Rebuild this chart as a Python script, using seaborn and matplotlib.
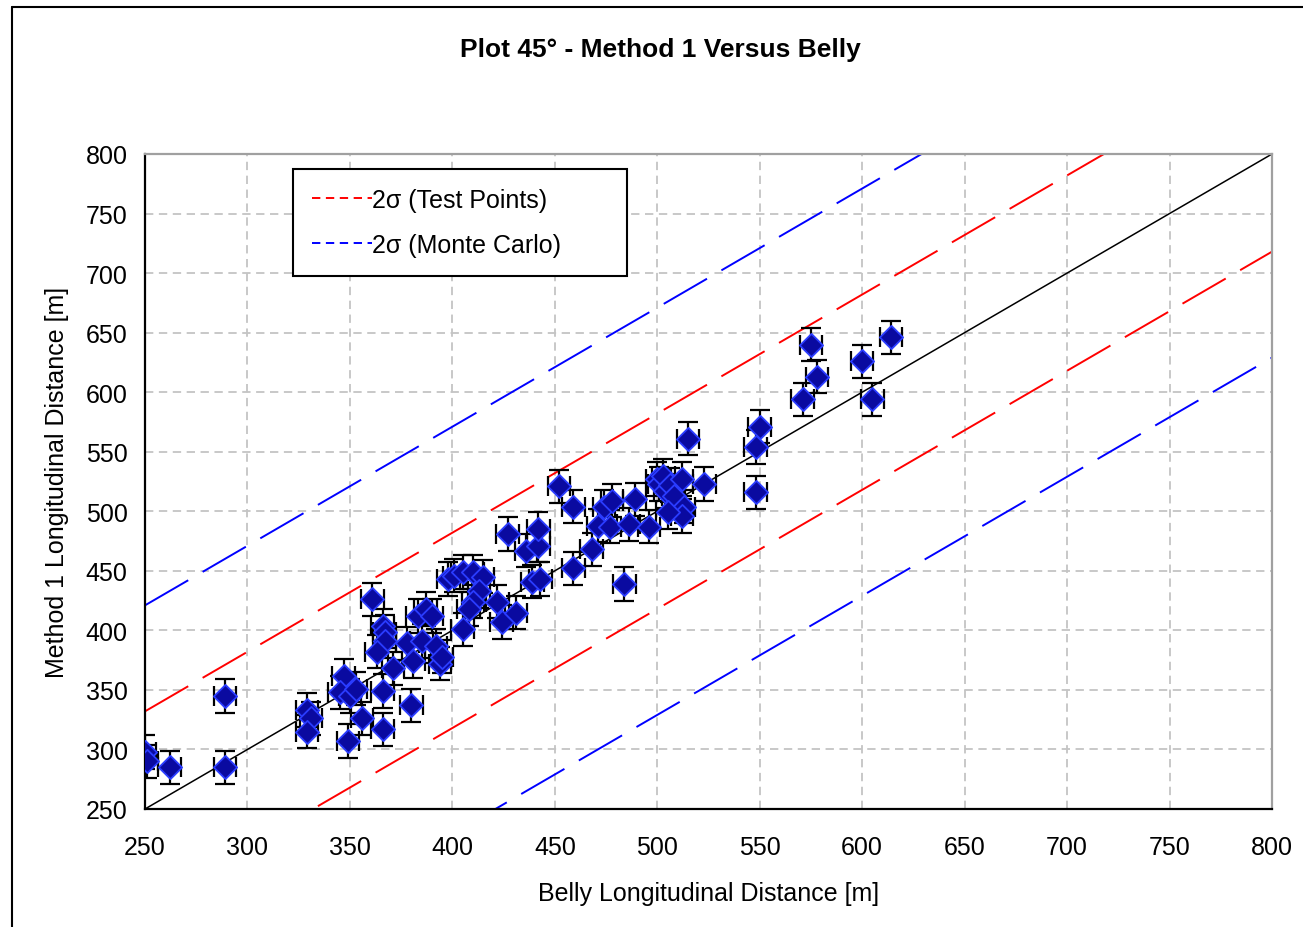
import numpy as np
import pandas as pd
import matplotlib
matplotlib.use("Agg")
from matplotlib import pyplot as plt
from matplotlib.lines import Line2D
import seaborn as sns

# valores (Belly vs Method 1)
belly = [250, 251, 262, 289, 289, 329, 331, 329, 347, 345, 350, 353, 349, 356,
         361, 366, 367, 367, 363, 371, 366, 366, 380, 378, 381, 383, 387, 390,
         385, 392, 394, 395, 398, 401, 405, 410, 415, 413, 410, 408, 405, 422,
         424, 431, 436, 442, 439, 443, 452, 459, 427, 442, 459, 468, 471, 477,
         474, 478, 489, 486, 496, 484, 500, 501, 504, 503, 506, 508, 512, 523,
         513, 512, 505, 515, 550, 548, 548, 575, 578, 571, 600, 605, 614]
method1 = [298, 290, 285, 345, 285, 333, 326, 315, 362, 348, 345, 351, 307, 326,
           426, 404, 399, 391, 382, 368, 349, 317, 337, 389, 374, 412, 418, 412,
           391, 387, 372, 378, 443, 446, 449, 449, 445, 433, 424, 418, 401, 424,
           407, 415, 467, 471, 441, 443, 521, 504, 481, 485, 452, 468, 488, 487,
           504, 509, 510, 489, 487, 439, 527, 523, 517, 530, 522, 513, 527, 523,
           504, 496, 499, 561, 571, 554, 516, 640, 613, 594, 626, 594, 646]
x_err = 5.5
y_err = 14

# bandas 2 sigma alrededor de la recta 45°
test_offset = 82
mc_offset = 171
line_x = np.array([250, 800])

df = pd.DataFrame({"belly": belly, "method1": method1})

sns.set_style("white")
plt.rcParams["font.family"] = ["Liberation Sans", "DejaVu Sans"]
plt.rcParams["lines.scale_dashes"] = False
plt.rcParams["text.color"] = "black"
plt.rcParams["axes.labelcolor"] = "black"

fig = plt.figure(figsize=(13.03, 9.28), dpi=100)
ax = fig.add_axes([145 / 1303, 1 - 810 / 928, 1127 / 1303, 655 / 928])

band_ls = (0, (36, 12))
ax.plot(line_x, line_x, color="black", lw=1.1, zorder=2)
ax.plot(line_x, line_x + test_offset, color="red", lw=1.4, ls=band_ls, zorder=2)
ax.plot(line_x, line_x - test_offset, color="red", lw=1.4, ls=band_ls, zorder=2)
ax.plot(line_x, line_x + mc_offset, color="blue", lw=1.4, ls=band_ls, zorder=2)
ax.plot(line_x, line_x - mc_offset, color="blue", lw=1.4, ls=band_ls, zorder=2)

ax.errorbar(df["belly"], df["method1"], xerr=x_err, yerr=y_err, fmt="none",
            ecolor="black", elinewidth=1.6, capsize=7, capthick=1.6, zorder=3)
sns.scatterplot(data=df, x="belly", y="method1", ax=ax, marker="D", s=140,
                color="#0a0aa0", edgecolor="#2a3cff", linewidth=1.3, zorder=4,
                legend=False)

ax.set_xlim(250, 800)
ax.set_ylim(250, 800)
ax.set_xticks(np.arange(250, 801, 50))
ax.set_yticks(np.arange(250, 801, 50))
ax.set_xticks(np.arange(250, 801, 10), minor=True)
ax.set_yticks(np.arange(250, 801, 10), minor=True)
ax.grid(True, which="major", color="#c4c4c4", lw=1.3, ls=(0, (6, 4)))
ax.tick_params(which="major", direction="inout", length=9, width=1.5,
               labelsize=18, colors="black")
ax.tick_params(axis="x", which="major", pad=14)
ax.tick_params(axis="y", which="major", pad=8)
ax.tick_params(which="minor", direction="in", length=4, width=1.3, colors="black")

for side in ["left", "bottom"]:
    ax.spines[side].set_color("black")
    ax.spines[side].set_linewidth(1.6)
for side in ["top", "right"]:
    ax.spines[side].set_color("#a0a0a0")
    ax.spines[side].set_linewidth(1.6)

ax.set_xlabel("Belly Longitudinal Distance [m]", fontsize=18, labelpad=16)
ax.set_ylabel("Method 1 Longitudinal Distance [m]", fontsize=18, labelpad=12)

fig.text(660 / 1303, 1 - 50 / 928, "Plot 45° - Method 1 Versus Belly",
         ha="center", va="center", fontsize=19, fontweight="bold", color="black")

handles = [Line2D([], [], color="red", lw=1.4, ls=(0, (6, 4))),
           Line2D([], [], color="blue", lw=1.4, ls=(0, (6, 4)))]
labels = ["2σ (Test Points)", "2σ (Monte Carlo)"]
leg = ax.legend(handles, labels, loc="upper left", mode="expand",
                bbox_to_anchor=(0.1313, 0.794, 0.2964, 0.183),
                fontsize=18, frameon=True, fancybox=False, borderpad=0.75,
                labelspacing=0.85, handlelength=2.4, handletextpad=0.0,
                borderaxespad=0)
leg.get_frame().set_edgecolor("black")
leg.get_frame().set_linewidth(1.5)
leg.get_frame().set_alpha(1)

# marco exterior de la figura
fig.add_artist(Line2D([12 / 1303, 12 / 1303], [0, 1 - 8 / 928], color="black", lw=1.5))
fig.add_artist(Line2D([12 / 1303, 1], [1 - 8 / 928, 1 - 8 / 928], color="black", lw=1.5))

fig.savefig("out.png", dpi=100)
